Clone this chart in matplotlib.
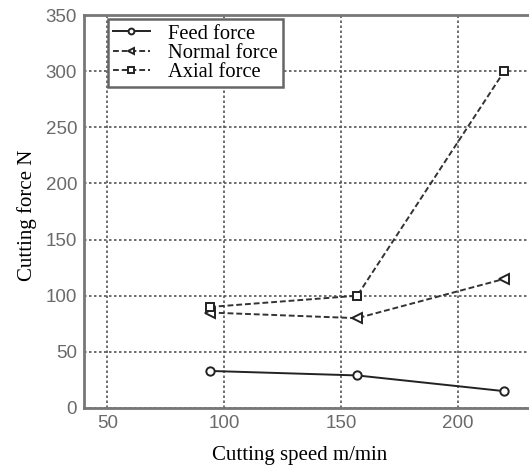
import matplotlib
matplotlib.use("Agg")
import matplotlib.pyplot as plt

speed = [94, 157, 220]
feed_force = [33, 29, 15]
normal_force = [85, 80, 115]
axial_force = [90, 100, 300]
xticks = [50, 100, 150, 200]
yticks = [0, 50, 100, 150, 200, 250, 300, 350]

fig = plt.figure(figsize=(5.29, 4.68), dpi=100)
ax = fig.add_axes([84/529, 60/468, 467/529, 393/468])

ax.plot(speed, feed_force, '-', color='#222222', lw=1.4, marker='o', ms=6,
        mfc='white', mec='#222222', mew=1.4, label='Feed force')
ax.plot(speed, normal_force, '--', color='#333333', lw=1.4, marker='<', ms=7,
        mfc='white', mec='#222222', mew=1.4, label='Normal force', dashes=(3, 1.5))
ax.plot(speed, axial_force, '--', color='#333333', lw=1.4, marker='s', ms=6,
        mfc='white', mec='#222222', mew=1.4, label='Axial force', dashes=(3, 1.5))

ax.set_xlim(40, 240)
ax.set_ylim(0, 350)
ax.set_xticks(xticks)
ax.set_yticks(yticks)
ax.grid(True, linestyle=(0, (1.5, 1.5)), color='#555555', lw=1.2)
ax.set_axisbelow(True)
for s in ax.spines.values():
    s.set_color('#777777')
    s.set_linewidth(2)
ax.tick_params(length=0, pad=5, labelsize=13.5, labelcolor='#6a6a6a')
for lab in ax.get_xticklabels() + ax.get_yticklabels():
    lab.set_family('Liberation Sans')

ax.set_xlabel('Cutting speed m/min', family='Liberation Serif', fontsize=15)
ax.xaxis.set_label_coords(0.4625, -38/393)
ax.set_ylabel('Cutting force N', family='Liberation Serif', fontsize=15)
ax.yaxis.set_label_coords(-47/467, 0.49)

leg = ax.legend(loc='upper left', bbox_to_anchor=(0.051, 1 - 4/393),
                prop={'family': 'Liberation Serif', 'size': 14.8},
                frameon=True, fancybox=False, borderpad=0.25, labelspacing=0.0,
                handlelength=1.8, handletextpad=0.9, borderaxespad=0.0,
                markerscale=0.7)
leg.get_frame().set_edgecolor('#666666')
leg.get_frame().set_linewidth(1.8)
leg.get_frame().set_alpha(1)

fig.savefig('out.png', dpi=100)
